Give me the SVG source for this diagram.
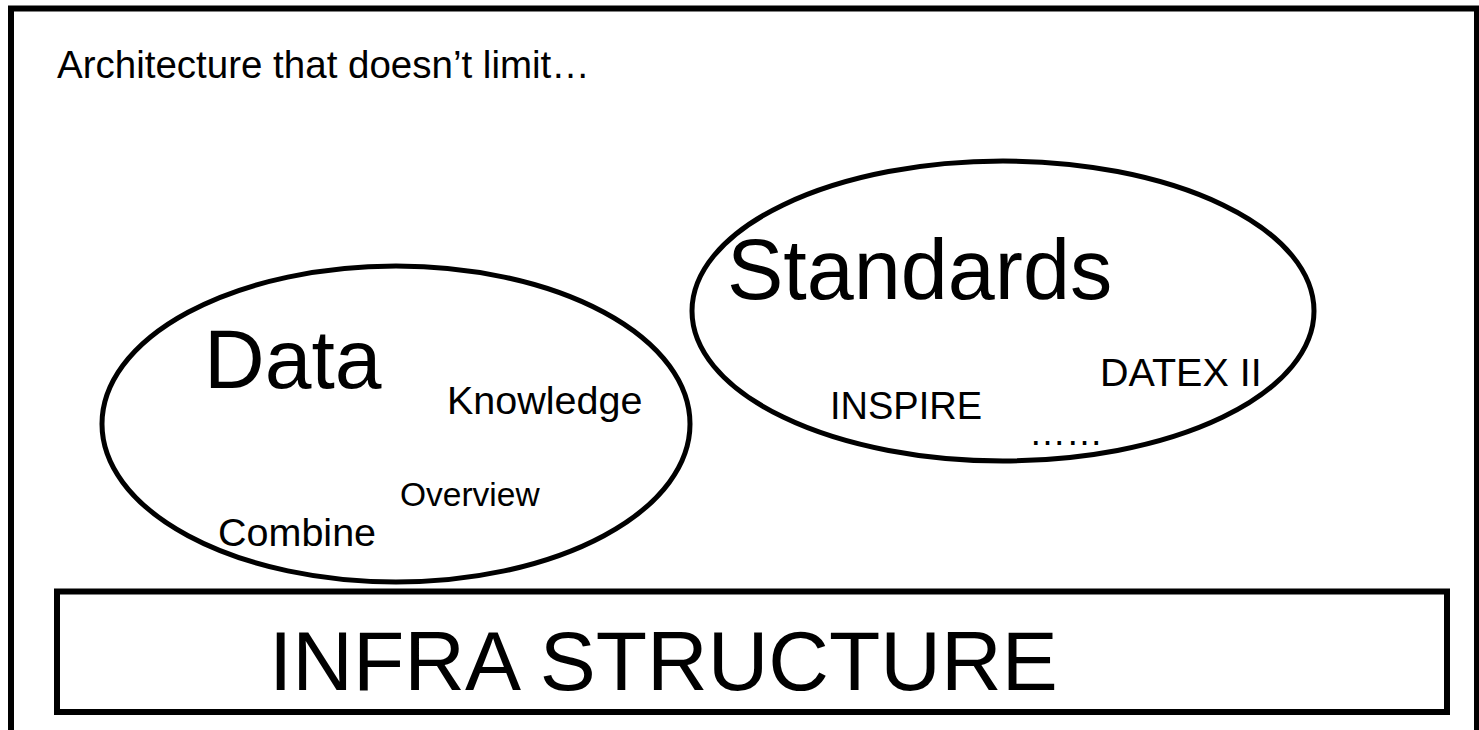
<svg xmlns="http://www.w3.org/2000/svg" width="1479" height="730" viewBox="0 0 1479 730">
<style>
text{font-family:"Liberation Sans",Arial,sans-serif;fill:#000}
.sh{fill:none;stroke:#000}
</style>
<rect width="1479" height="730" fill="#fff"/>
<rect class="sh" x="11" y="8.5" width="1466" height="740" stroke-width="6"/>
<text x="57" y="78" font-size="38.5">Architecture that doesn’t limit…</text>
<g id="data">
<ellipse class="sh" cx="396" cy="424" rx="294" ry="158" stroke-width="5"/>
<text x="204" y="388" font-size="84">Data</text>
<text x="447" y="414" font-size="39.5">Knowledge</text>
<text x="400" y="506" font-size="33.5">Overview</text>
<text x="218" y="546" font-size="39.5">Combine</text>
</g>
<g id="standards">
<ellipse class="sh" cx="1003" cy="311" rx="311" ry="150" stroke-width="5"/>
<text x="727" y="299" font-size="84.5">Standards</text>
<text x="830" y="419" font-size="38">INSPIRE</text>
<text x="1100" y="386" font-size="39.5">DATEX II</text>
<text x="1029" y="445" font-size="37">……</text>
</g>
<g id="infra">
<rect class="sh" x="57" y="591.5" width="1390" height="120.5" stroke-width="6"/>
<text x="269" y="690" font-size="84">INFRA STRUCTURE</text>
</g>
<g id="connectors"></g>
</svg>
